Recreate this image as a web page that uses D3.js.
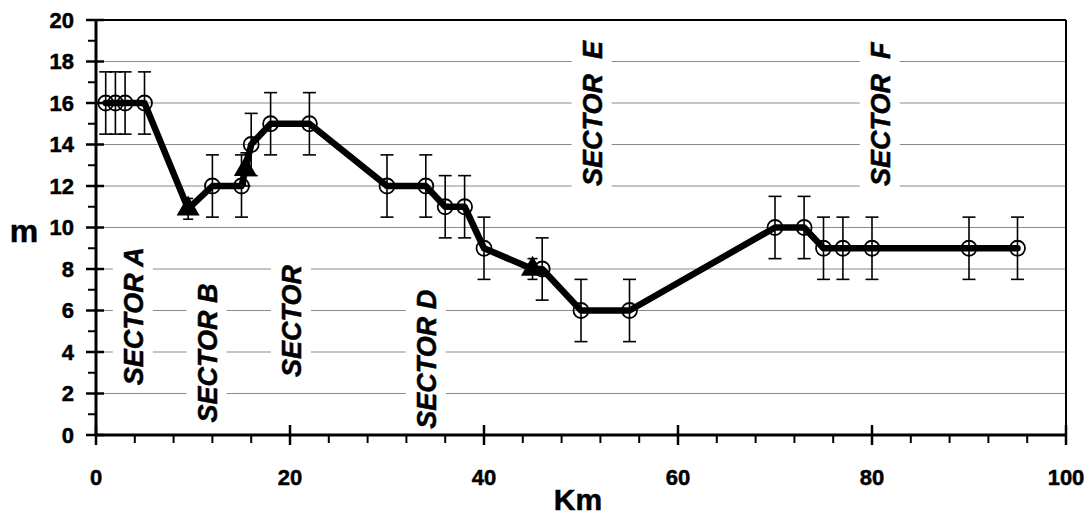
<!DOCTYPE html>
<html>
<head>
<meta charset="utf-8">
<script src="https://cdnjs.cloudflare.com/ajax/libs/d3/7.8.5/d3.min.js"></script>
<style>
  body { margin: 0; background: #fff; }
  svg text { font-family: "Liberation Sans", Arial, sans-serif; font-weight: bold; fill: #000; stroke: #000; stroke-width: 0.5px; }
</style>
</head>
<body>
<div id="chart"></div>
<script>
// readings from the figure
const circleKm  = [1, 2, 3, 5, 12, 15, 16, 18, 22, 30, 34, 36, 38, 40, 46, 50, 55, 70, 73, 75, 77, 80, 90, 95];
const circleM   = [16, 16, 16, 16, 12, 12, 14, 15, 15, 12, 12, 11, 11, 9, 8, 6, 6, 10, 10, 9, 9, 9, 9, 9];
const circleErr = [1.5, 1.5, 1.5, 1.5, 1.5, 1.5, 1.5, 1.5, 1.5, 1.5, 1.5, 1.5, 1.5, 1.5, 1.5, 1.5, 1.5, 1.5, 1.5, 1.5, 1.5, 1.5, 1.5, 1.5];

const triKm  = [9.5, 15.4, 45];
const triM   = [10.9, 12.8, 8];
const triErr = [0.5, 0.8, 0.5];

const sectorNames = ["SECTOR A", "SECTOR B", "SECTOR", "SECTOR D", "SECTOR  E", "SECTOR  F"];
const sectorKm    = [3.8, 11.4, 20.1, 34.0, 51.1, 80.8];
const sectorM     = [2.4, 0.6, 2.8, 0.3, 12.0, 12.0];

const xTicks = [0, 20, 40, 60, 80, 100];
const yTicks = [0, 2, 4, 6, 8, 10, 12, 14, 16, 18, 20];

(function () {
    const W = 1092, H = 515;
    const mL = 96, mR = 1066, mT = 20, mB = 435;

    const svg = d3.select("#chart").append("svg").attr("width", W).attr("height", H);

    const x = d3.scaleLinear().domain([0, 100]).range([mL, mR]);
    const y = d3.scaleLinear().domain([0, 20]).range([mB, mT]);

    // grid
    svg.append("g").selectAll("line").data(yTicks.filter(d => d > 0 && d < 20)).enter()
        .append("line")
        .attr("x1", mL).attr("x2", mR)
        .attr("y1", d => y(d)).attr("y2", d => y(d))
        .attr("stroke", "#8a8a8a").attr("stroke-width", 1.2);

    // sector labels with white boxes
    const sec = svg.append("g").selectAll("g").data(sectorNames).enter()
        .append("g")
        .attr("transform", (d, i) => `translate(${x(sectorKm[i]) + 10},${y(sectorM[i])}) rotate(-90)`);
    sec.append("text").text(d => d)
        .attr("font-size", 27).attr("font-style", "italic")
        .style("white-space", "pre");
    sec.each(function () {
        const g = d3.select(this);
        const b = g.select("text").node().getBBox();
        g.insert("rect", "text")
            .attr("x", b.x - 4).attr("y", b.y - 6)
            .attr("width", b.width + 8).attr("height", b.height + 10)
            .attr("fill", "#fff");
    });

    // error bars
    function errBars(kms, ms, errs, cap) {
        const g = svg.append("g").attr("stroke", "#000").attr("stroke-width", 1.6);
        kms.forEach((k, i) => {
            const cx = x(k), y1 = y(ms[i] + errs[i]), y2 = y(ms[i] - errs[i]);
            g.append("line").attr("x1", cx).attr("x2", cx).attr("y1", y1).attr("y2", y2);
            g.append("line").attr("x1", cx - cap).attr("x2", cx + cap).attr("y1", y1).attr("y2", y1);
            g.append("line").attr("x1", cx - cap).attr("x2", cx + cap).attr("y1", y2).attr("y2", y2);
        });
    }
    errBars(circleKm, circleM, circleErr, 6.5);
    errBars(triKm, triM, triErr, 5);

    // profile line through all points
    const pts = circleKm.map((k, i) => [k, circleM[i]])
        .concat(triKm.map((k, i) => [k, triM[i]]))
        .sort((a, b) => a[0] - b[0]);
    const line = d3.line().x(d => x(d[0])).y(d => y(d[1]));
    svg.append("path").datum(pts).attr("d", line)
        .attr("fill", "none").attr("stroke", "#000").attr("stroke-width", 6.5)
        .attr("stroke-linejoin", "round").attr("stroke-linecap", "round");

    // markers
    svg.append("g").selectAll("circle").data(circleKm).enter()
        .append("circle")
        .attr("cx", d => x(d)).attr("cy", (d, i) => y(circleM[i])).attr("r", 7.5)
        .attr("fill", "none").attr("stroke", "#000").attr("stroke-width", 1.8);
    const tri = d3.symbol().type(d3.symbolTriangle).size(230);
    svg.append("g").selectAll("path").data(triKm).enter()
        .append("path").attr("d", tri)
        .attr("transform", (d, i) => `translate(${x(d)},${y(triM[i])})`)
        .attr("fill", "#000");

    // frame
    svg.append("line").attr("x1", mL).attr("x2", mR).attr("y1", mT).attr("y2", mT)
        .attr("stroke", "#000").attr("stroke-width", 2);
    svg.append("line").attr("x1", mR).attr("x2", mR).attr("y1", mT).attr("y2", mB)
        .attr("stroke", "#000").attr("stroke-width", 2);

    // y axis
    const yAxis = svg.append("g");
    yAxis.append("line").attr("x1", mL).attr("x2", mL).attr("y1", mT).attr("y2", mB)
        .attr("stroke", "#000").attr("stroke-width", 3);
    yAxis.selectAll(".minor").data(d3.range(1, 20, 2)).enter().append("line")
        .attr("x1", mL - 8).attr("x2", mL).attr("y1", d => y(d)).attr("y2", d => y(d))
        .attr("stroke", "#000").attr("stroke-width", 2);
    yAxis.selectAll(".major").data(yTicks).enter().append("line")
        .attr("x1", mL - 10).attr("x2", mL + 8).attr("y1", d => y(d)).attr("y2", d => y(d))
        .attr("stroke", "#000").attr("stroke-width", 2.5);
    yAxis.selectAll("text").data(yTicks).enter().append("text")
        .attr("x", mL - 22).attr("y", d => y(d)).attr("dy", "0.36em")
        .attr("text-anchor", "end").attr("font-size", 22).text(d => d);

    // x axis
    const xAxis = svg.append("g");
    xAxis.append("line").attr("x1", mL).attr("x2", mR).attr("y1", mB).attr("y2", mB)
        .attr("stroke", "#000").attr("stroke-width", 3);
    xAxis.selectAll(".minor").data(d3.range(4, 100, 4).filter(d => d % 20 !== 0)).enter().append("line")
        .attr("x1", d => x(d)).attr("x2", d => x(d)).attr("y1", mB).attr("y2", mB + 8)
        .attr("stroke", "#000").attr("stroke-width", 2);
    xAxis.selectAll(".major").data(xTicks).enter().append("line")
        .attr("x1", d => x(d)).attr("x2", d => x(d)).attr("y1", mB - 10).attr("y2", mB + 10)
        .attr("stroke", "#000").attr("stroke-width", 2.5);
    xAxis.selectAll("text").data(xTicks).enter().append("text")
        .attr("x", d => x(d)).attr("y", 485)
        .attr("text-anchor", "middle").attr("font-size", 22).text(d => d);

    // axis titles
    svg.append("text").attr("x", 578).attr("y", 510).attr("text-anchor", "middle")
        .attr("font-size", 30).text("Km");
    svg.append("text").attr("x", 24).attr("y", 242).attr("text-anchor", "middle")
        .attr("font-size", 32).text("m");
})();
</script>
</body>
</html>
